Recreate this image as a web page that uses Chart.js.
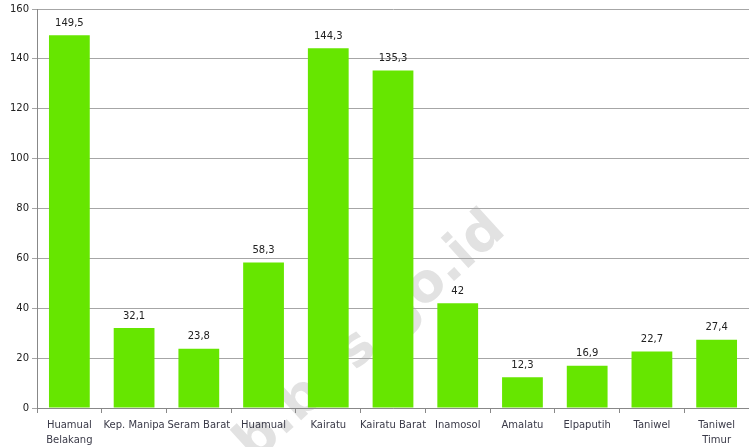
<!DOCTYPE html>
<html>
<head>
<meta charset="utf-8">
<script src="https://cdn.jsdelivr.net/npm/chart.js@4"></script>
<style>
  html, body { margin: 0; padding: 0; background: #fff; }
  #wrap { width: 749px; height: 447px; }
</style>
</head>
<body>
<div id="wrap"><canvas id="chart" width="749" height="447"></canvas></div>
<script>
var labels = [
	["Huamual", "Belakang"], "Kep. Manipa", "Seram Barat", "Huamual", "Kairatu",
	"Kairatu Barat", "Inamosol", "Amalatu", "Elpaputih", "Taniwel", ["Taniwel", "Timur"]
];
var values = [149.5, 32.1, 23.8, 58.3, 144.3, 135.3, 42, 12.3, 16.9, 22.7, 27.4];
var yTicks = [0, 20, 40, 60, 80, 100, 120, 140, 160];

// background + watermark, drawn under the grid
var backdrop = {
	id: "backdrop",
	beforeDraw: function (chart) {
		var ctx = chart.ctx;
		ctx.save();
		ctx.fillStyle = "#fff";
		ctx.fillRect(0, 0, chart.width, chart.height);
		ctx.translate(254, 463);
		ctx.rotate(-42.3 * Math.PI / 180);
		ctx.font = "bold 54px 'DejaVu Sans'";
		ctx.fillStyle = "#e2e2e2";
		ctx.textBaseline = "alphabetic";
		ctx.fillText("b.bps.go.id", 0, 0);
		ctx.restore();
	}
};

// value labels above each bar
var valueLabels = {
	id: "valueLabels",
	afterDatasetsDraw: function (chart) {
		var ctx = chart.ctx;
		var meta = chart.getDatasetMeta(0);
		ctx.save();
		ctx.font = "10px 'DejaVu Sans'";
		ctx.fillStyle = "#222";
		ctx.textAlign = "center";
		ctx.textBaseline = "bottom";
		meta.data.forEach(function (bar, i) {
			ctx.fillText(String(values[i]).replace(".", ","), bar.x, bar.y - 7);
		});
		ctx.restore();
	}
};

new Chart(document.getElementById("chart"), {
	type: "bar",
	data: {
		labels: labels,
		datasets: [{
			data: values,
			backgroundColor: "#66e600",
			borderWidth: 0,
			categoryPercentage: 1,
			barPercentage: 0.63
		}]
	},
	options: {
		responsive: false,
		animation: false,
		layout: { padding: { top: 8, right: 0, left: 0, bottom: 0 } },
		plugins: {
			legend: { display: false },
			tooltip: { enabled: false }
		},
		scales: {
			x: {
				grid: {
					drawOnChartArea: false,
					drawTicks: true,
					tickLength: 5,
					color: "#888"
				},
				border: { color: "#888" },
				ticks: {
					color: "#3a3a48",
					font: { family: "DejaVu Sans", size: 10, lineHeight: 1.5 },
					maxRotation: 0,
					autoSkip: false,
					padding: 5
				},
				afterFit: function (s) { s.height = 39; }
			},
			y: {
				min: 0,
				max: 160,
				afterBuildTicks: function (s) {
					s.ticks = yTicks.map(function (v) { return { value: v }; });
				},
				grid: {
					color: "#a6a6a6",
					tickLength: 5
				},
				border: { color: "#888" },
				ticks: {
					color: "#222",
					font: { family: "DejaVu Sans", size: 10 },
					padding: 3
				},
				afterFit: function (s) { s.width = 37; }
			}
		}
	},
	plugins: [backdrop, valueLabels]
});
</script>
</body>
</html>
